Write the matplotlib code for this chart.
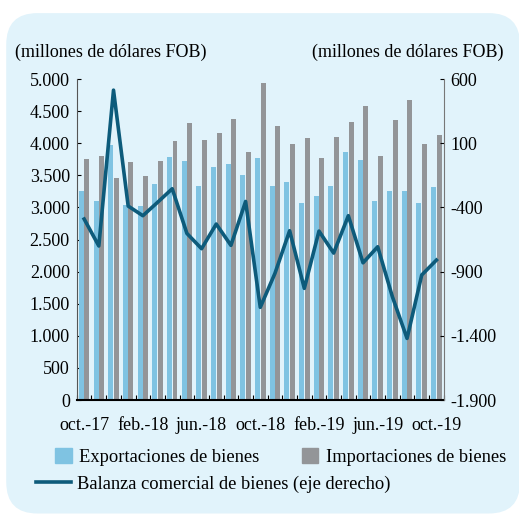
import numpy as np
import matplotlib.pyplot as plt
from matplotlib.patches import FancyBboxPatch, Patch
from matplotlib.lines import Line2D
from matplotlib.ticker import FuncFormatter

plt.rcParams['font.family'] = ['Liberation Serif', 'DejaVu Serif']

# monthly data oct-17 .. oct-19 (millones de dólares FOB)
months = ['oct.-17', 'nov.-17', 'dic.-17', 'ene.-18', 'feb.-18', 'mar.-18', 'abr.-18',
          'may.-18', 'jun.-18', 'jul.-18', 'ago.-18', 'sep.-18', 'oct.-18', 'nov.-18',
          'dic.-18', 'ene.-19', 'feb.-19', 'mar.-19', 'abr.-19', 'may.-19', 'jun.-19',
          'jul.-19', 'ago.-19', 'sep.-19', 'oct.-19']
exportaciones = [3260, 3100, 3972, 3037, 3022, 3364, 3785, 3717, 3328, 3629, 3681, 3505, 3764,
                 3338, 3401, 3063, 3178, 3338, 3863, 3743, 3095, 3250, 3260, 3069, 3323]
importaciones = [3754, 3800, 3458, 3707, 3484, 3728, 4040, 4315, 4045, 4159, 4372, 3863, 4938,
                 4263, 3988, 4081, 3764, 4097, 4325, 4579, 3800, 4356, 4678, 3993, 4128]
balanza = [-490, -700, 514, -389, -464, -360, -254, -602, -721, -529, -695, -353, -1178,
           -913, -581, -1030, -584, -755, -464, -831, -706, -1095, -1420, -926, -810]

c_exp = '#7fc3e2'
c_imp = '#939598'
c_line = '#0d5b7b'
bg = '#e1f3fb'

fig = plt.figure(figsize=(5.19, 5.24), dpi=100)
fig.patch.set_facecolor('white')
box = FancyBboxPatch((0.012, 0.02), 0.99, 0.955, boxstyle='round,pad=0,rounding_size=0.06',
                     transform=fig.transFigure, facecolor=bg, edgecolor='none', zorder=-10)
fig.patches.append(box)

ax = fig.add_axes([0.148, 0.2366, 0.707, 0.6124])
ax.set_facecolor('none')
x = np.arange(len(months))
w = 0.34
ax.bar(x - 0.19, exportaciones, w, color=c_exp, zorder=2)
ax.bar(x + 0.19, importaciones, w, color=c_imp, zorder=2)
ax.set_xlim(-0.5, len(months) - 0.5)
ax.set_ylim(0, 5000)
ax.set_yticks(np.arange(0, 5001, 500))
ax.yaxis.set_major_formatter(FuncFormatter(lambda v, p: f'{int(v):,}'.replace(',', '.')))
ax.set_xticks(x[::4])
ax.set_xticklabels(months[::4])
ax.set_xticks(np.arange(-0.5, len(months), 1), minor=True)
ax.tick_params(axis='x', which='major', length=0, labelsize=13, pad=12)
ax.tick_params(axis='x', which='minor', direction='in', length=3.5, width=0.8)
ax.tick_params(axis='y', direction='in', length=3, labelsize=13, pad=5)
ax.spines['top'].set_visible(False)
ax.spines['right'].set_visible(False)
ax.spines['bottom'].set_linewidth(1.5)
ax.spines['left'].set_color('#555555')

ax2 = ax.twinx()
ax2.plot(x, balanza, color=c_line, lw=2.6, zorder=3)
ax2.set_ylim(-1900, 600)
ax2.set_yticks(np.arange(-1900, 601, 500))
ax2.yaxis.set_major_formatter(FuncFormatter(lambda v, p: f'{int(v):,}'.replace(',', '.')))
ax2.tick_params(axis='y', direction='in', length=3, labelsize=13, pad=5)
for s in ['top', 'left', 'bottom']:
    ax2.spines[s].set_visible(False)
ax2.spines['right'].set_color('#777777')

fig.text(0.028, 0.9, '(millones de dólares FOB)', fontsize=13, va='center', ha='left')
fig.text(0.97, 0.9, '(millones de dólares FOB)', fontsize=13, va='center', ha='right')

leg1 = fig.legend(handles=[Patch(color=c_exp, label='Exportaciones de bienes'),
                           Patch(color=c_imp, label='Importaciones de bienes')],
                  loc='center left', bbox_to_anchor=(0.106, 0.128), ncol=2, frameon=False,
                  fontsize=13.3, handlelength=0.9, handleheight=0.9, columnspacing=2.3,
                  handletextpad=0.4, borderaxespad=0, borderpad=0)
leg2 = fig.legend(handles=[Line2D([], [], color=c_line, lw=2.6,
                                  label='Balanza comercial de bienes (eje derecho)')],
                  loc='center left', bbox_to_anchor=(0.07, 0.076), frameon=False,
                  fontsize=13.3, handlelength=1.9, handletextpad=0.3,
                  borderaxespad=0, borderpad=0)

fig.savefig('out.png', dpi=100, facecolor='white')
